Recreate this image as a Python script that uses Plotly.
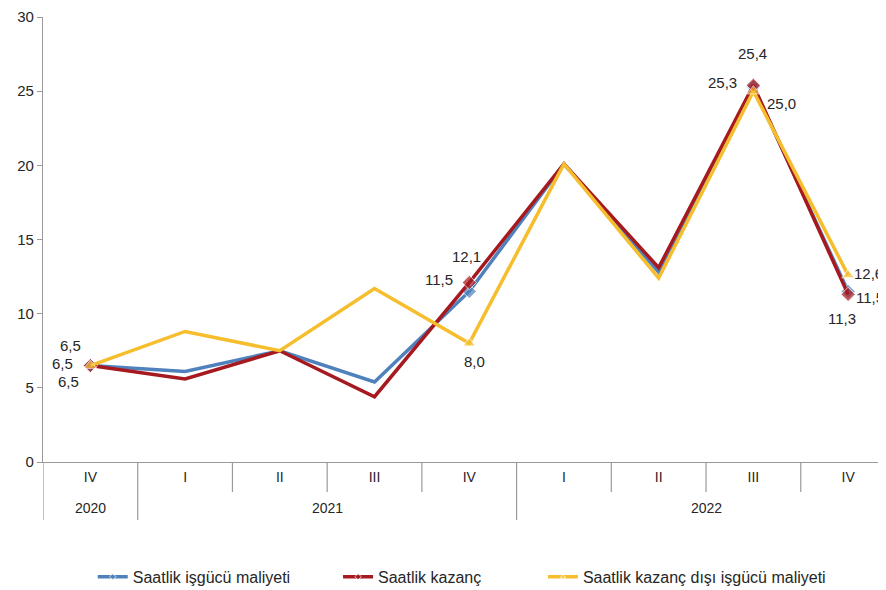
import plotly.graph_objects as go

quarters = ["IV", "I", "II", "III", "IV", "I", "II", "III", "IV"]
years = ["2020", "2021", "2021", "2021", "2021", "2022", "2022", "2022", "2022"]

labor_cost = [6.5, 6.1, 7.5, 5.4, 11.5, 20.1, 12.8, 25.3, 11.5]
earnings = [6.5, 5.6, 7.5, 4.4, 12.1, 20.1, 13.1, 25.4, 11.3]
non_wage = [6.5, 8.8, 7.5, 11.7, 8.0, 20.1, 12.4, 25.0, 12.6]

y_ticks = [0, 5, 10, 15, 20, 25, 30]

series_names = ["Saatlik işgücü maliyeti", "Saatlik kazanç", "Saatlik kazanç dışı işgücü maliyeti"]
colors = ["#4F81BD", "#A6191F", "#F6BE2C"]
symbols = ["diamond", "diamond", "triangle-up"]
labeled_idx = [0, 4, 7, 8]

FONT = "Liberation Sans, Arial, sans-serif"
AX = "#9A9A9A"
TXT = "#262626"

xi = list(range(len(quarters)))
legend_ids = ["legend", "legend2", "legend3"]
legend_x = [0.059, 0.350, 0.593]

fig = go.Figure()
for name, vals, col, sym, lid in zip(series_names, [labor_cost, earnings, non_wage], colors, symbols, legend_ids):
    sizes = [11 if i in labeled_idx else 0 for i in xi]
    fig.add_trace(go.Scatter(
        x=xi, y=vals, name=name, mode="lines+markers",
        line=dict(color=col, width=3.5),
        marker=dict(color=col, size=sizes, symbol=sym),
        cliponaxis=False, legend=lid,
    ))

def fmt(v):
    return f"{v:.1f}".replace(".", ",")

# label offsets (xshift, yshift) per series per labeled index
offsets = {
    0: {0: (-28, 2), 4: (-30, 12), 7: (-31, 4), 8: (22, -6)},
    1: {0: (-22, -16), 4: (-3, 26), 7: (-1, 32), 8: (-6, -24)},
    2: {0: (-20, 20), 4: (5, -18), 7: (28, -12), 8: (20, 2)},
}
all_vals = [labor_cost, earnings, non_wage]
for s, vals in enumerate(all_vals):
    for i in labeled_idx:
        dx, dy = offsets[s][i]
        fig.add_annotation(
            x=i, y=vals[i], xref="x", yref="y",
            text=fmt(vals[i]), showarrow=False, xshift=dx, yshift=dy,
            font=dict(family=FONT, size=15, color=TXT),
        )

# category boundary lines (short between quarters, long between years)
PH = 445.0
for i in range(len(quarters)):
    new_year = (i == 0) or (years[i] != years[i - 1])
    y1 = -58 / PH if new_year else -30 / PH
    fig.add_shape(type="line", xref="x", yref="paper", x0=i - 0.5, x1=i - 0.5,
                  y0=0, y1=y1, line=dict(color=AX, width=1.2))

# year labels centered on their groups
groups = []
for i, y in enumerate(years):
    if groups and groups[-1][0] == y:
        groups[-1][1].append(i)
    else:
        groups.append((y, [i]))
for y, idxs in groups:
    fig.add_annotation(x=sum(idxs) / len(idxs), y=-46 / PH, xref="x", yref="paper",
                       text=y, showarrow=False, yanchor="middle",
                       font=dict(family=FONT, size=14, color=TXT))

legend_style = dict(orientation="h", xanchor="left", y=-0.258, yanchor="middle",
                    font=dict(family=FONT, size=16, color=TXT), bgcolor="rgba(0,0,0,0)")

fig.update_layout(
    width=878, height=582,
    margin=dict(l=35, r=0, t=9, b=128, autoexpand=False),
    paper_bgcolor="white", plot_bgcolor="white",
    font=dict(family=FONT, size=14, color=TXT),
    showlegend=True,
    legend=dict(x=legend_x[0], **legend_style),
    legend2=dict(x=legend_x[1], **legend_style),
    legend3=dict(x=legend_x[2], **legend_style),
    xaxis=dict(range=[-0.5, 8.4], tickmode="array", tickvals=xi, ticktext=quarters,
               showline=True, linecolor=AX, linewidth=1.2, ticks="",
               showgrid=False, zeroline=False, automargin=False,
               ticklabelstandoff=2,
               tickfont=dict(family=FONT, size=14, color=TXT)),
    yaxis=dict(range=[0, 30], tickmode="array", tickvals=y_ticks,
               showline=True, linecolor=AX, linewidth=1.2,
               ticks="outside", ticklen=5, tickcolor=AX, showgrid=False,
               zeroline=False, automargin=False,
               tickfont=dict(family=FONT, size=15, color=TXT)),
)

fig.write_html("out.html")
